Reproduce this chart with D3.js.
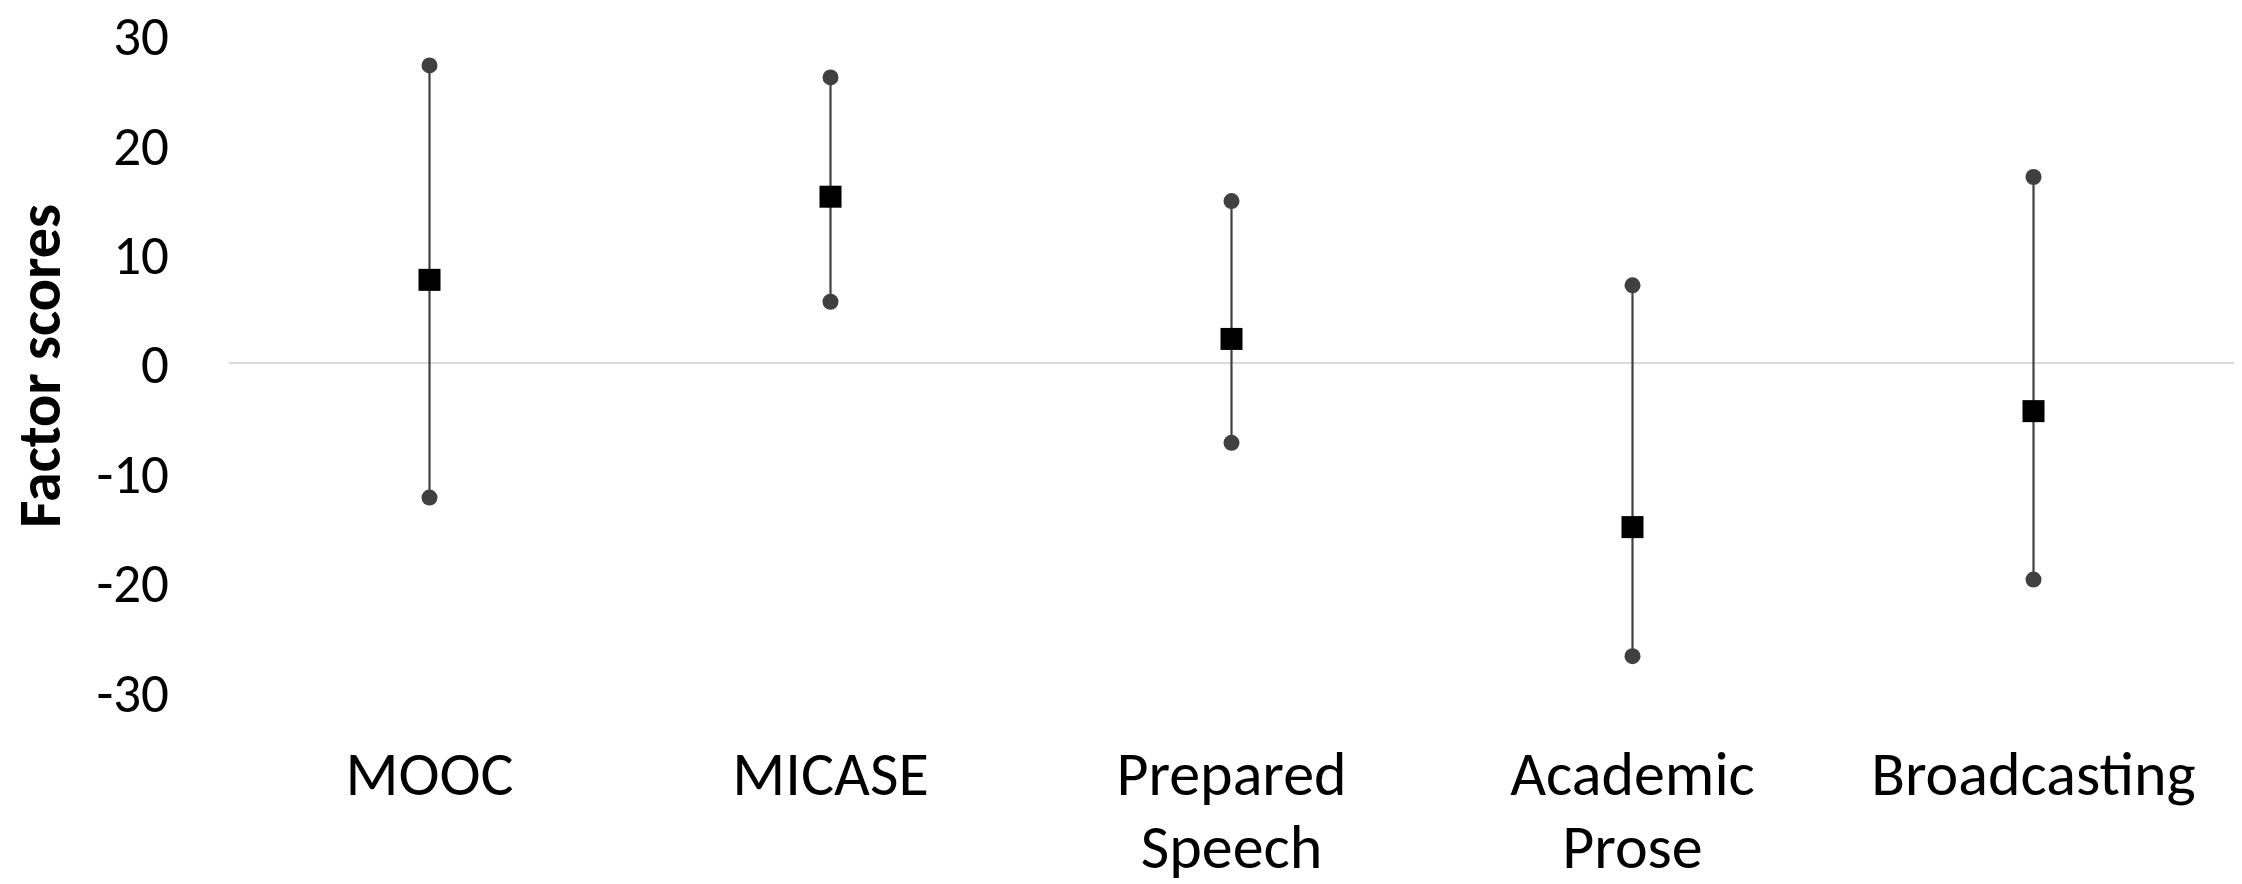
<!DOCTYPE html>
<html>
<head>
  <meta charset="utf-8">
  <script src="https://d3js.org/d3.v7.min.js"></script>
  <style>
    body { margin: 0; background: #fff; }
    text { font-family: Calibri, Lato, sans-serif; fill: #000; }
  </style>
</head>
<body>
  <div id="chart"></div>
  <script>
    // values
    const categories = ["MOOC", "MICASE", "Prepared Speech", "Academic Prose", "Broadcasting"];
    const means = [7.6, 15.2, 2.2, -15.0, -4.4];
    const upper = [27.2, 26.1, 14.8, 7.1, 17.0];
    const lower = [-12.3, 5.6, -7.3, -26.8, -19.8];
    const yTicks = [-30, -20, -10, 0, 10, 20, 30];

    const width = 2242, height = 884;
    const left = 229, right = 2234;

    const data = categories.map((c, i) => ({ cat: c, mean: means[i], hi: upper[i], lo: lower[i] }));

    const svg = d3.select("#chart").append("svg")
      .attr("width", width)
      .attr("height", height);

    const x = d3.scaleBand()
      .domain(categories)
      .range([left, right]);

    const y = d3.scaleLinear()
      .domain([-30, 30])
      .range([691.2, 34.8]);

    // y tick labels
    const yAxis = svg.append("g")
      .attr("transform", `translate(${left},0)`)
      .call(d3.axisLeft(y).tickValues(yTicks).tickSize(0).tickPadding(60).tickFormat(d3.format("d")));
    yAxis.select(".domain").remove();
    yAxis.selectAll("text")
      .style("font-size", "55px")
      .style("font-family", "Calibri, Lato, sans-serif")
      .attr("fill", "#000")
      .attr("dy", "0.36em")
      .text(d => d < 0 ? "-" + Math.abs(d) : d);

    // zero line
    svg.append("line")
      .attr("x1", left).attr("x2", right)
      .attr("y1", y(0)).attr("y2", y(0))
      .attr("stroke", "#d9d9d9")
      .attr("stroke-width", 2);

    // y title
    svg.append("text")
      .attr("transform", `translate(60,${y(0) + 3}) rotate(-90)`)
      .attr("text-anchor", "middle")
      .style("font-size", "60px")
      .style("font-weight", "bold")
      .text("Factor scores");

    // x category labels, wrapped at the space
    const xLab = svg.append("g").selectAll("text")
      .data(categories)
      .join("text")
      .attr("x", d => x(d) + x.bandwidth() / 2)
      .attr("y", 795)
      .attr("text-anchor", "middle")
      .style("font-size", "62px");
    xLab.each(function (d) {
      const words = d.split(" ");
      const t = d3.select(this);
      words.forEach((w, i) => {
        t.append("tspan")
          .attr("x", x(d) + x.bandwidth() / 2)
          .attr("dy", i === 0 ? 0 : 73)
          .text(w);
      });
    });

    const g = svg.append("g");
    const cx = d => x(d.cat) + x.bandwidth() / 2;

    g.selectAll(".range")
      .data(data)
      .join("line")
      .attr("class", "range")
      .attr("x1", cx).attr("x2", cx)
      .attr("y1", d => y(d.hi)).attr("y2", d => y(d.lo))
      .attr("stroke", "#404040")
      .attr("stroke-width", 2.2);

    g.selectAll(".hi")
      .data(data)
      .join("circle")
      .attr("class", "hi")
      .attr("cx", cx).attr("cy", d => y(d.hi))
      .attr("r", 8)
      .attr("fill", "#404040");

    g.selectAll(".lo")
      .data(data)
      .join("circle")
      .attr("class", "lo")
      .attr("cx", cx).attr("cy", d => y(d.lo))
      .attr("r", 8)
      .attr("fill", "#404040");

    g.selectAll(".mean")
      .data(data)
      .join("rect")
      .attr("class", "mean")
      .attr("x", d => cx(d) - 11)
      .attr("y", d => y(d.mean) - 11)
      .attr("width", 22)
      .attr("height", 22)
      .attr("fill", "#000");
  </script>
</body>
</html>
